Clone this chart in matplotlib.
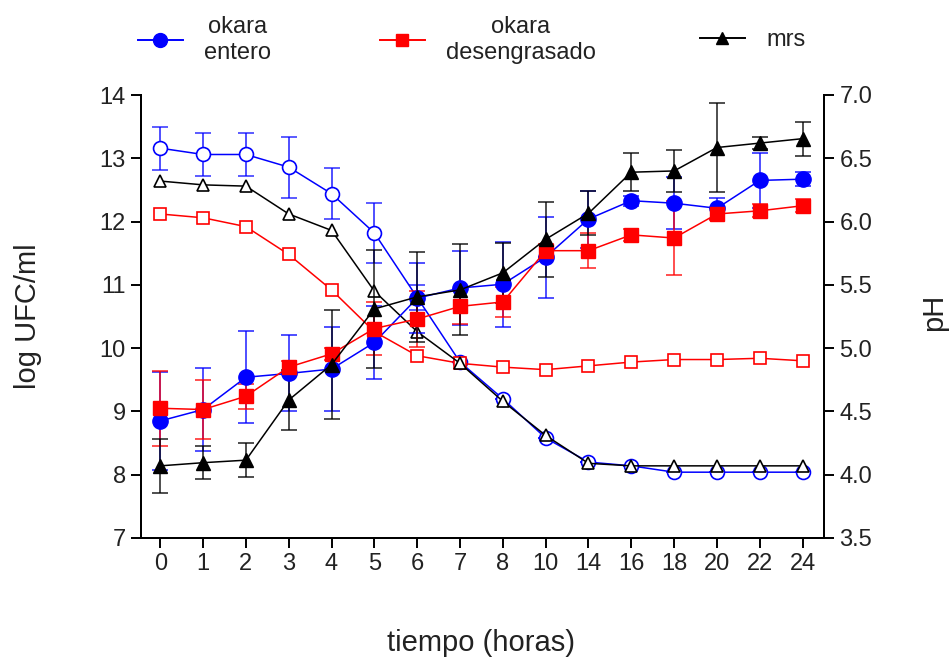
import matplotlib
matplotlib.use('Agg')
import matplotlib.pyplot as plt
from matplotlib.lines import Line2D
from matplotlib.colors import to_rgba
import numpy as np

plt.rcParams['font.family'] = ['Liberation Sans', 'DejaVu Sans']

# tiempo (horas), eje categórico
horas = ['0', '1', '2', '3', '4', '5', '6', '7', '8', '10', '14', '16', '18', '20', '22', '24']

# log UFC/ml (marcadores rellenos, eje izquierdo)
ufc_entero = [8.85, 9.03, 9.54, 9.60, 9.67, 10.09, 10.79, 10.95, 11.01, 11.44, 12.04, 12.33, 12.29, 12.21, 12.65, 12.67]
ufc_entero_err = [0.78, 0.65, 0.73, 0.60, 0.67, 0.57, 0.55, 0.59, 0.67, 0.64, 0.45, 0.08, 0.41, 0.17, 0.43, 0.11]
ufc_desgr = [9.05, 9.03, 9.24, 9.70, 9.91, 10.31, 10.46, 10.66, 10.73, 11.54, 11.54, 11.79, 11.74, 12.12, 12.17, 12.25]
ufc_desgr_err = [0.59, 0.46, 0.20, 0.10, 0.10, 0.42, 0.44, 0.28, 0.23, 0.10, 0.28, 0.10, 0.58, 0.10, 0.10, 0.10]
ufc_mrs = [8.14, 8.19, 8.23, 9.18, 9.74, 10.62, 10.81, 10.92, 11.19, 11.72, 12.13, 12.78, 12.80, 13.17, 13.24, 13.31]
ufc_mrs_err = [0.43, 0.26, 0.27, 0.47, 0.86, 0.93, 0.71, 0.72, 0.47, 0.59, 0.35, 0.30, 0.33, 0.70, 0.10, 0.27]

# pH (marcadores vacíos, eje derecho)
ph_entero = [6.58, 6.53, 6.53, 6.43, 6.22, 5.91, 5.40, 4.89, 4.60, 4.29, 4.10, 4.07, 4.02, 4.02, 4.02, 4.02]
ph_entero_err = [0.17, 0.17, 0.17, 0.24, 0.20, 0.24, 0.10, 0, 0, 0, 0, 0, 0, 0, 0, 0]
ph_desgr = [6.06, 6.03, 5.96, 5.74, 5.46, 5.13, 4.94, 4.88, 4.85, 4.83, 4.86, 4.89, 4.91, 4.91, 4.92, 4.90]
ph_mrs = [6.32, 6.29, 6.28, 6.06, 5.93, 5.45, 5.13, 4.88, 4.58, 4.31, 4.09, 4.07, 4.07, 4.07, 4.07, 4.07]

labels = ['okara\nentero', 'okara\ndesengrasado', 'mrs']
colors = ['#0000ff', '#ff0000', '#000000']
markers = ['o', 's', '^']
msizes = [11, 10, 10]

x = np.arange(len(horas))

fig = plt.figure(figsize=(9.51, 6.64), dpi=100)
ax = fig.add_axes([141/951, 1-538/664, 683/951, 443/664])
ax2 = ax.twinx()
ax.set_zorder(ax2.get_zorder() + 1)
ax.patch.set_visible(False)

ufc = [ufc_entero, ufc_desgr, ufc_mrs]
ufc_err = [ufc_entero_err, ufc_desgr_err, ufc_mrs_err]
ph = [ph_entero, ph_desgr, ph_mrs]
ph_err = [ph_entero_err, None, None]

for i in range(3):
    ax2.errorbar(x, ph[i], yerr=ph_err[i], color=colors[i], marker=markers[i],
                 ms=msizes[i] - 1, mfc='white', mec=colors[i], mew=1.2, lw=1.1,
                 ecolor=to_rgba(colors[i], 0.75),
                 capsize=6, elinewidth=1.3, capthick=1.3)
for i in range(3):
    ax.errorbar(x, ufc[i], yerr=ufc_err[i], color=colors[i], marker=markers[i],
                ms=msizes[i], mfc=colors[i], mec=colors[i], lw=1.1,
                ecolor=to_rgba(colors[i], 0.75),
                capsize=6, elinewidth=1.3, capthick=1.3)

ax.set_xlim(-0.45, 15.5)
ax.set_ylim(7, 14)
ax.set_yticks(range(7, 15))
ax2.set_ylim(3.5, 7.0)
ax2.set_yticks(np.arange(3.5, 7.01, 0.5))
ax2.set_yticklabels(['%.1f' % v for v in np.arange(3.5, 7.01, 0.5)])
ax.set_xticks(x)
ax.set_xticklabels(horas)

for a in (ax, ax2):
    a.spines['top'].set_visible(False)
    for s in a.spines.values():
        s.set_linewidth(1.4)
    a.tick_params(direction='out', length=7, width=1.4, labelsize=17,
                  labelcolor='#222222', pad=4)

ax.set_ylabel('log UFC/ml', fontsize=21, color='#222222')
ax.yaxis.set_label_coords(-0.145, 0.5)
ax2.set_ylabel('pH', fontsize=21, color='#222222')
ax2.yaxis.set_label_coords(1.14, 0.51)
ax.set_xlabel('tiempo (horas)', fontsize=21, color='#222222')
ax.xaxis.set_label_coords(0.498, -0.205)

# leyenda: tres entradas colocadas a mano
leg_x = [138, 380, 700]
for i in range(3):
    h = Line2D([], [], color=colors[i], marker=markers[i], ms=msizes[i] - 1,
               mfc=colors[i], lw=1.4)
    lg = fig.legend([h], [labels[i]], loc='center left',
                    bbox_to_anchor=(leg_x[i]/951, 1 - 40/664), frameon=False,
                    fontsize=17, handlelength=1.9, handletextpad=0.9,
                    borderpad=0, borderaxespad=0, labelspacing=0)
    for t in lg.get_texts():
        t.set_multialignment('center')
        t.set_color('#222222')

fig.savefig('out.png', dpi=100)
